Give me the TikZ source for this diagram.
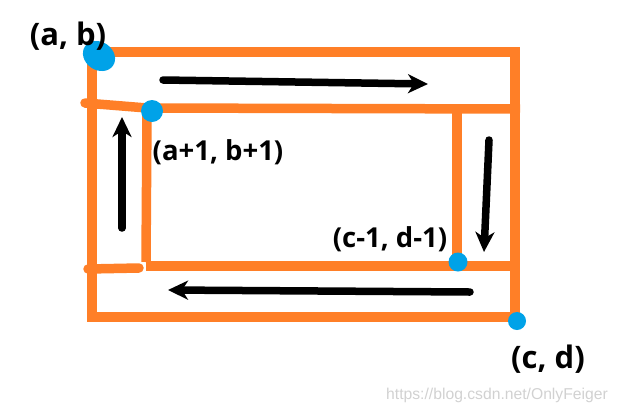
\documentclass[tikz,border=0pt]{standalone}
\usepackage{fontspec}
\setmainfont{Open Sans}
\newfontfamily\wmfont{Liberation Sans}
\usetikzlibrary{arrows.meta}
\definecolor{po}{HTML}{FF7F27}
\definecolor{pb}{HTML}{00A2E8}
\begin{document}
\begin{tikzpicture}[x=1pt,y=-1pt,
  edge/.style={draw=po,line width=9.5pt},
  dot/.style={fill=pb},
  flow/.style={draw=black,line width=7.5pt,line cap=round,-{Stealth[length=20pt,width=19pt,inset=6pt]}},
  big/.style={inner sep=0pt,text=black,font=\fontsize{31}{34}\selectfont\bfseries},
  small/.style={inner sep=0pt,text=black,font=\fontsize{27.5}{30}\selectfont\bfseries}]
\useasboundingbox (0,0) rectangle (620,413);
% corners
\coordinate (ab) at (92,52);
\coordinate (tr) at (515,52);
\coordinate (cd) at (515,317);
\coordinate (bl) at (92,317);
% outer rectangle
\draw[edge,line join=miter] (ab) -- (tr) -- (cd) -- (bl) -- cycle;
% inner lines
\coordinate (l1) at (85,103);
\coordinate (a1) at (147,108);
\coordinate (r1) at (520,109);
\coordinate (c1) at (457,266);
\coordinate (l2) at (88,269);
\coordinate (e2) at (139,268);
\coordinate (m2) at (146,266);
\coordinate (r2) at (520,266);
\coordinate (t2) at (457,108);
\draw[edge,line cap=round] (l1) -- (a1);
\draw[edge] (a1) -- (r1);
\draw[edge,line cap=round] (l2) -- (e2);
\draw[edge] (m2) -- (r2);
\draw[edge] ([yshift=-4pt]a1) -- ([yshift=4pt]m2);
\draw[edge] ([yshift=-4pt]t2) -- (c1);
% blue dots
\fill[dot,rotate around={-35:(99,56)}] (99,56) ellipse (17pt and 14pt);
\fill[dot] (152,111) circle (11pt);
\fill[dot] (458,262) circle (9.5pt);
\fill[dot] (517,321) circle (9pt);
% flow arrows
\coordinate (fa1) at (163,80);  \coordinate (fa2) at (428,84);
\coordinate (fb1) at (489,140); \coordinate (fb2) at (484,252);
\coordinate (fc1) at (470,292); \coordinate (fc2) at (168,290);
\coordinate (fd1) at (122,228); \coordinate (fd2) at (122,117);
\draw[flow] (fa1) -- (fa2);
\draw[flow] (fb1) -- (fb2);
\draw[flow] (fc1) -- (fc2);
\draw[flow] (fd1) -- (fd2);
% labels
\node[big] (tab) at (68,36) {(a, b)};
\node[small] (ta1) at (218,152) {(a+1, b+1)};
\node[small] (tc1) at (390,239) {(c-1, d-1)};
\node[big] (tcd) at (548,359) {(c, d)};
\node[inner sep=0pt,text=black!18,font=\wmfont\fontsize{15.7}{18}\selectfont] (wm) at (497,395) {https://blog.csdn.net/OnlyFeiger};
\end{tikzpicture}
\end{document}
